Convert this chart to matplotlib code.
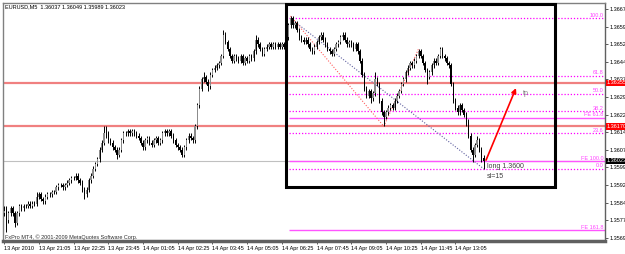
import matplotlib
matplotlib.use("Agg")
import matplotlib.pyplot as plt
from matplotlib.patches import Rectangle
from matplotlib.transforms import blended_transform_factory

# ---------------- data ----------------
FIRST_OPEN = 1.3580
closes = [
 1.3581, 1.3577, 1.3580, 1.3582, 1.3580, 1.3576, 1.3580, 1.3583, 1.3582, 1.3583,
 1.3583, 1.3584, 1.3583, 1.3584, 1.3584, 1.3587, 1.3588, 1.3586, 1.3585, 1.3587,
 1.3588, 1.3588, 1.3589, 1.3589, 1.3591, 1.3592, 1.3592, 1.3591, 1.3592, 1.3593,
 1.3594, 1.3595, 1.3595, 1.3596, 1.3594, 1.3593, 1.3590, 1.3588, 1.3590, 1.3594,
 1.3596, 1.3599, 1.3601, 1.3603, 1.3607, 1.3610, 1.3614, 1.3614, 1.3611, 1.3610,
 1.3608, 1.3607, 1.3605, 1.3607, 1.3611, 1.3614, 1.3614, 1.3615, 1.3614, 1.3615,
 1.3614, 1.3613, 1.3612, 1.3610, 1.3608, 1.3611, 1.3612, 1.3610, 1.3609, 1.3611,
 1.3612, 1.3610, 1.3611, 1.3614, 1.3615, 1.3614, 1.3615, 1.3613, 1.3611, 1.3609,
 1.3608, 1.3607, 1.3605, 1.3608, 1.3611, 1.3613, 1.3612, 1.3611, 1.3617, 1.3626,
 1.3633, 1.3637, 1.3638, 1.3636, 1.3634, 1.3639, 1.3641, 1.3642, 1.3643, 1.3644,
 1.3647, 1.3656, 1.3653, 1.3650, 1.3647, 1.3645, 1.3647, 1.3646, 1.3645, 1.3647,
 1.3644, 1.3646, 1.3645, 1.3647, 1.3646, 1.3649, 1.3654, 1.3652, 1.3650, 1.3648,
 1.3650, 1.3651, 1.3652, 1.3651, 1.3652, 1.3651, 1.3652, 1.3651, 1.3652, 1.3651,
 1.3655, 1.3660, 1.3663, 1.3660, 1.3661, 1.3658, 1.3655, 1.3654, 1.3653, 1.3654,
 1.3652, 1.3650, 1.3649, 1.3651, 1.3653, 1.3655, 1.3656, 1.3654, 1.3652, 1.3650,
 1.3649, 1.3648, 1.3650, 1.3652, 1.3653, 1.3655, 1.3656, 1.3654, 1.3652, 1.3653,
 1.3652, 1.3650, 1.3652, 1.3649, 1.3645, 1.3639, 1.3633, 1.3630, 1.3632, 1.3629,
 1.3631, 1.3637, 1.3635, 1.3628, 1.3623, 1.3621, 1.3623, 1.3625, 1.3626, 1.3625,
 1.3628, 1.3630, 1.3632, 1.3635, 1.3637, 1.3640, 1.3642, 1.3644, 1.3643, 1.3645,
 1.3647, 1.3649, 1.3647, 1.3644, 1.3641, 1.3638, 1.3640, 1.3643, 1.3645, 1.3644,
 1.3647, 1.3650, 1.3647, 1.3646, 1.3644, 1.3643, 1.3635, 1.3628, 1.3625, 1.3623,
 1.3626, 1.3624, 1.3622, 1.3619, 1.3613, 1.3607, 1.3605, 1.3609, 1.3611, 1.3607,
 1.36037, 1.36023]
highs = [
 1.3583, 1.3583, 1.3581, 1.3583, 1.3583, 1.3581, 1.3581, 1.3584, 1.3584, 1.3584,
 1.3584, 1.3585, 1.3585, 1.3585, 1.3585, 1.3589, 1.3589, 1.3589, 1.3587, 1.3588,
 1.3589, 1.3589, 1.3590, 1.3590, 1.3592, 1.3593, 1.3593, 1.3593, 1.3593, 1.3594,
 1.3595, 1.3596, 1.3596, 1.3597, 1.3597, 1.3595, 1.3594, 1.3591, 1.3591, 1.3595,
 1.3597, 1.3600, 1.3602, 1.3604, 1.3608, 1.3611, 1.3617, 1.3617, 1.3615, 1.3612,
 1.3611, 1.3609, 1.3608, 1.3608, 1.3612, 1.3615, 1.3615, 1.3616, 1.3616, 1.3616,
 1.3616, 1.3615, 1.3614, 1.3613, 1.3611, 1.3612, 1.3613, 1.3613, 1.3611, 1.3612,
 1.3613, 1.3613, 1.3612, 1.3615, 1.3616, 1.3616, 1.3616, 1.3616, 1.3614, 1.3612,
 1.3610, 1.3609, 1.3608, 1.3609, 1.3612, 1.3614, 1.3614, 1.3613, 1.3618, 1.3627,
 1.3634, 1.3638, 1.3640, 1.3639, 1.3637, 1.3640, 1.3642, 1.3643, 1.3644, 1.3645,
 1.3648, 1.3658, 1.3657, 1.3654, 1.3651, 1.3648, 1.3648, 1.3648, 1.3647, 1.3648,
 1.3648, 1.3647, 1.3647, 1.3648, 1.3648, 1.3650, 1.3656, 1.3655, 1.3653, 1.3651,
 1.3651, 1.3652, 1.3653, 1.3653, 1.3653, 1.3653, 1.3653, 1.3653, 1.3653, 1.3653,
 1.3656, 1.3661, 1.3664, 1.3664, 1.3662, 1.3662, 1.3659, 1.3656, 1.3655, 1.3655,
 1.3655, 1.3653, 1.3651, 1.3652, 1.3654, 1.3656, 1.3657, 1.3657, 1.3655, 1.3653,
 1.3651, 1.3650, 1.3651, 1.3653, 1.3654, 1.3656, 1.3657, 1.3657, 1.3655, 1.3654,
 1.3654, 1.3653, 1.3653, 1.3653, 1.3650, 1.3646, 1.3640, 1.3634, 1.3633, 1.3633,
 1.3632, 1.3640, 1.3638, 1.3636, 1.3629, 1.3624, 1.3624, 1.3626, 1.3627, 1.3627,
 1.3629, 1.3631, 1.3633, 1.3636, 1.3638, 1.3641, 1.3643, 1.3645, 1.3645, 1.3646,
 1.3648, 1.3650, 1.3650, 1.3648, 1.3645, 1.3642, 1.3641, 1.3644, 1.3646, 1.3646,
 1.3648, 1.3651, 1.3651, 1.3648, 1.3647, 1.3645, 1.3644, 1.3636, 1.3629, 1.3626,
 1.3627, 1.3627, 1.3625, 1.3623, 1.3620, 1.3614, 1.3608, 1.3610, 1.3613, 1.3612,
 1.3608, 1.36049]
lows = [
 1.3579, 1.3572, 1.3576, 1.3579, 1.3579, 1.3574, 1.3575, 1.3579, 1.3581, 1.3581,
 1.3582, 1.3582, 1.3582, 1.3582, 1.3583, 1.3583, 1.3586, 1.3585, 1.3584, 1.3584,
 1.3586, 1.3587, 1.3587, 1.3588, 1.3588, 1.3590, 1.3591, 1.3590, 1.3590, 1.3591,
 1.3592, 1.3593, 1.3594, 1.3594, 1.3593, 1.3592, 1.3589, 1.3586, 1.3587, 1.3589,
 1.3593, 1.3595, 1.3598, 1.3600, 1.3602, 1.3606, 1.3609, 1.3612, 1.3610, 1.3609,
 1.3607, 1.3606, 1.3603, 1.3604, 1.3606, 1.3610, 1.3613, 1.3613, 1.3613, 1.3613,
 1.3613, 1.3612, 1.3611, 1.3609, 1.3607, 1.3607, 1.3610, 1.3609, 1.3608, 1.3608,
 1.3610, 1.3609, 1.3609, 1.3610, 1.3613, 1.3613, 1.3613, 1.3612, 1.3610, 1.3608,
 1.3607, 1.3606, 1.3604, 1.3604, 1.3607, 1.3610, 1.3611, 1.3610, 1.3610, 1.3616,
 1.3625, 1.3632, 1.3636, 1.3635, 1.3632, 1.3633, 1.3638, 1.3640, 1.3641, 1.3642,
 1.3643, 1.3646, 1.3652, 1.3649, 1.3646, 1.3644, 1.3644, 1.3645, 1.3644, 1.3644,
 1.3643, 1.3643, 1.3644, 1.3644, 1.3645, 1.3645, 1.3648, 1.3651, 1.3649, 1.3647,
 1.3647, 1.3649, 1.3650, 1.3650, 1.3650, 1.3650, 1.3650, 1.3650, 1.3650, 1.3650,
 1.3650, 1.3654, 1.3659, 1.3659, 1.3659, 1.3657, 1.3654, 1.3653, 1.3652, 1.3652,
 1.3651, 1.3649, 1.3648, 1.3648, 1.3650, 1.3652, 1.3654, 1.3653, 1.3651, 1.3649,
 1.3648, 1.3647, 1.3647, 1.3649, 1.3651, 1.3652, 1.3654, 1.3653, 1.3651, 1.3651,
 1.3651, 1.3649, 1.3649, 1.3648, 1.3644, 1.3638, 1.3632, 1.3629, 1.3629, 1.3627,
 1.3628, 1.3630, 1.3634, 1.3627, 1.3622, 1.3617, 1.3620, 1.3622, 1.3624, 1.3624,
 1.3624, 1.3627, 1.3629, 1.3631, 1.3634, 1.3636, 1.3639, 1.3641, 1.3642, 1.3642,
 1.3644, 1.3646, 1.3646, 1.3643, 1.3640, 1.3635, 1.3637, 1.3639, 1.3642, 1.3643,
 1.3643, 1.3646, 1.3646, 1.3645, 1.3643, 1.3642, 1.3634, 1.3627, 1.3624, 1.3622,
 1.3622, 1.3623, 1.3621, 1.3617, 1.3612, 1.3606, 1.3602, 1.3604, 1.3608, 1.3606,
 1.3602, 1.35989]

time_labels = ["13 Apr 2010", "13 Apr 21:05", "13 Apr 22:25", "13 Apr 23:45",
               "14 Apr 01:05", "14 Apr 02:25", "14 Apr 03:45", "14 Apr 05:05",
               "14 Apr 06:25", "14 Apr 07:45", "14 Apr 09:05", "14 Apr 10:25",
               "14 Apr 11:45", "14 Apr 13:05"]
BARS_PER_LABEL = 16

price_ticks = [1.36670, 1.36595, 1.36520, 1.36445, 1.36370, 1.36295, 1.36220,
               1.36145, 1.36070, 1.35995, 1.35920, 1.35845, 1.35770, 1.35695]

red_levels = [1.36355, 1.36170]
bid = 1.36023

fibo_names = ["100.0", "61.8", "50.0", "38.2", "23.6", "0.0"]
fibo_ratios = [1.0, 0.618, 0.5, 0.382, 0.236, 0.0]
FIBO_HIGH, FIBO_LOW = 1.36630, 1.35989
fe_names = ["FE 61.8", "FE 100.0", "FE 161.8"]
fe_levels = [1.36206, 1.36022, 1.35728]

# chart objects (bar index, price)
BOX = (130.0, 1.35911, 253.9, 1.36691)
RED_TREND = [(132, 1.3664), (175, 1.3617), (191, 1.3650)]
BLUE_TREND = [(132, 1.3663), (221, 1.35989)]
ARROW = ((222.1, 1.36026), (235.9, 1.36333))
FIBO_START = 131.5

# ---------------- figure ----------------
W, H = 625, 254
fig = plt.figure(figsize=(W / 100, H / 100), dpi=100)
fig.patch.set_facecolor("white")
ax = fig.add_axes([3 / W, 13 / H, 602 / W, 238 / H])
ax.set_facecolor("white")

PX_PER_BAR = 2.17
xmin = -0.5
xmax = xmin + 602 / PX_PER_BAR
ax.set_xlim(xmin, xmax)
ylo = 1.36670 - 232 * 4.261e-5
yhi = 1.36670 + 6 * 4.261e-5
ax.set_ylim(ylo, yhi)

font = "Liberation Sans"

# horizontal lines
ax.axhline(bid, color="#c0c0c0", lw=0.8, zorder=1)
for lv in red_levels:
    ax.axhline(lv, color="#f08080", lw=1.6, zorder=1)

rng = FIBO_HIGH - FIBO_LOW
for name, r in zip(fibo_names, fibo_ratios):
    lv = FIBO_LOW + r * rng
    ax.hlines(lv, FIBO_START, xmax, colors="#ff00ff", linestyles=(0, (1, 1.5)), lw=0.9, zorder=2)
    ax.text(xmax - 0.8, lv + 0.00002, name, ha="right", va="bottom", fontsize=4,
            color="#ff44ff", family=font, zorder=5)
for name, lv in zip(fe_names, fe_levels):
    ax.hlines(lv, FIBO_START, xmax, colors="#ff55ff", lw=1.0, zorder=2)
    ax.text(xmax - 0.8, lv + 0.00002, name, ha="right", va="bottom", fontsize=4,
            color="#ff44ff", family=font, zorder=5)

# trend lines
ax.plot([p[0] for p in RED_TREND], [p[1] for p in RED_TREND], color="#ff6060",
        ls=(0, (1, 1.5)), lw=0.8, zorder=3)
ax.plot([p[0] for p in BLUE_TREND], [p[1] for p in BLUE_TREND], color="#6060a0",
        ls=(0, (1, 1.5)), lw=0.8, zorder=3)

# candles
opens = [FIRST_OPEN] + closes[:-1]
for i, (o, h, l, c) in enumerate(zip(opens, highs, lows, closes)):
    bull = c >= o
    ax.vlines(i, l, h, color="black", lw=0.7, zorder=4)
    col = "#8c8c8c" if bull else "black"
    ax.add_patch(Rectangle((i - 0.32, min(o, c)), 0.64, max(abs(c - o), 0.00001),
                           facecolor=col, edgecolor="none", zorder=4))

# box
x0, y0, x1, y1 = BOX
ax.add_patch(Rectangle((x0, y0), x1 - x0, y1 - y0, fill=False, edgecolor="black",
                       lw=2.2, zorder=6))

# arrow
ax.annotate("", xy=ARROW[1], xytext=ARROW[0],
            arrowprops=dict(arrowstyle="-|>", color="red", lw=1.2, mutation_scale=7,
                            shrinkA=0, shrinkB=0), zorder=7)
ax.text(239.2, 1.36312, "tp", fontsize=5, color="#808080", family=font, va="center", ha="left")
ax.text(222.6, 1.36014, "long 1.3600", fontsize=5, color="#404040", family=font, va="top", ha="left")
ax.text(222.6, 1.35971, "sl=15", fontsize=5, color="#404040", family=font, va="top", ha="left")

# header + copyright
ax.text(0.003, 0.993, "EURUSD,M5  1.36037 1.36049 1.35989 1.36023", transform=ax.transAxes,
        fontsize=4, family=font, va="top", ha="left", color="black")
ax.text(0.003, 0.004, "FxPro MT4, \u00a9 2001-2009 MetaQuotes Software Corp.", transform=ax.transAxes,
        fontsize=4, family=font, va="bottom", ha="left", color="#303030")

# axes styling
for s in ["left", "top"]:
    ax.spines[s].set_color("#808080")
    ax.spines[s].set_linewidth(1)
ax.spines["right"].set_color("#606060")
ax.spines["right"].set_linewidth(1)
ax.spines["bottom"].set_color("#606060")
ax.spines["bottom"].set_linewidth(2.5)

ax.yaxis.tick_right()
ax.set_yticks(price_ticks)
ax.set_yticklabels([f"{p:.5f}" for p in price_ticks], fontsize=4, family=font)
ax.tick_params(axis="y", length=2, width=0.6, pad=1.5, colors="#404040", labelcolor="black")

xt = [k * BARS_PER_LABEL for k in range(len(time_labels))]
ax.set_xticks(xt)
ax.set_xticklabels(time_labels, fontsize=4, family=font, ha="left")
ax.tick_params(axis="x", length=2, width=0.6, pad=1.5, colors="#404040", labelcolor="black")

# price boxes on scale
tr = blended_transform_factory(ax.transAxes, ax.transData)
for lv in red_levels:
    ax.text(1.003, lv, f"{lv:.5f}", transform=tr, fontsize=4, family=font, color="white",
            va="center", ha="left", zorder=10, clip_on=False,
            bbox=dict(facecolor="red", edgecolor="none", pad=0.6))
ax.text(1.003, bid, f"{bid:.5f}", transform=tr, fontsize=4, family=font, color="white",
        va="center", ha="left", zorder=10, clip_on=False,
        bbox=dict(facecolor="black", edgecolor="none", pad=0.6))

fig.savefig("out.png", dpi=100, facecolor="white")
